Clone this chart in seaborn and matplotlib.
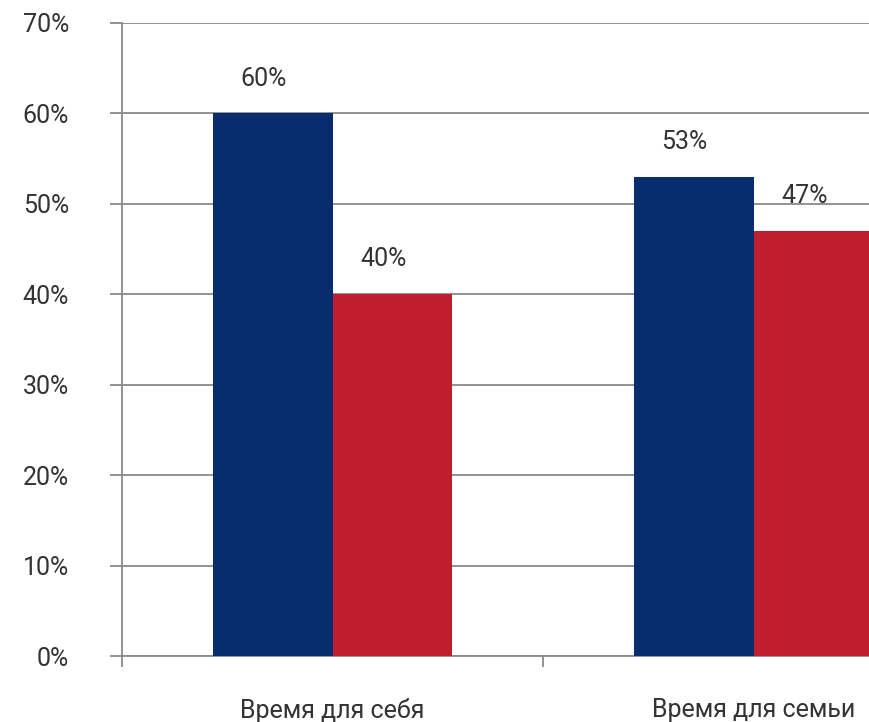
import matplotlib
matplotlib.use("Agg")
import matplotlib.pyplot as plt
from matplotlib.ticker import FixedLocator
import seaborn as sns
import pandas as pd

# Chart data
categories = ["Время для себя", "Время для семьи"]
series_names = ["Группа 1", "Группа 2"]
values_first = [60, 53]
values_second = [40, 47]
y_ticks = [0, 10, 20, 30, 40, 50, 60, 70]
y_tick_labels = ["0%", "10%", "20%", "30%", "40%", "50%", "60%", "70%"]

palette = ["#082d6e", "#be1e2d"]
grid_color = "#8a8a8a"
text_color = "#333333"

df = pd.DataFrame({
    "category": categories * 2,
    "series": [series_names[0]] * len(categories) + [series_names[1]] * len(categories),
    "value": values_first + values_second,
})

sns.set_theme(style="white")
plt.rcParams["font.family"] = ["Roboto", "DejaVu Sans"]

fig = plt.figure(figsize=(8.7, 7.22), dpi=100)
# plot area runs past the right edge of the canvas
ax = fig.add_axes([122 / 870, 1 - 656 / 722, 842 / 870, 633 / 722])

sns.barplot(data=df, x="category", y="value", hue="series", order=categories,
            hue_order=series_names, palette=palette, saturation=1, width=0.57,
            linewidth=0, legend=False, ax=ax, zorder=3)

ax.set_xlim(-0.5, 1.5)
ax.set_ylim(0, 70)
ax.set_xlabel("")
ax.set_ylabel("")

# horizontal grid with outward ticks
ax.set_yticks(y_ticks)
ax.set_yticklabels(y_tick_labels)
ax.yaxis.grid(True, color=grid_color, linewidth=1.3, zorder=0)
ax.set_axisbelow(True)
ax.tick_params(axis="y", which="major", left=True, length=9, width=1.3,
               color=grid_color, pad=29, labelsize=18, labelcolor=text_color)

# category labels centred, tick marks at category boundaries
ax.tick_params(axis="x", which="major", length=0, pad=30, labelsize=18,
               labelcolor=text_color)
ax.xaxis.set_minor_locator(FixedLocator([-0.5, 0.5, 1.5]))
ax.tick_params(axis="x", which="minor", bottom=True, length=8, width=1.3,
               color=grid_color, direction="out")

for side in ["top", "right"]:
    ax.spines[side].set_visible(False)
for side in ["left", "bottom"]:
    ax.spines[side].set_color(grid_color)
    ax.spines[side].set_linewidth(1.3)

# value labels above each bar
for container in ax.containers:
    for bar in container:
        h = bar.get_height()
        ax.annotate(f"{h:.0f}%", (bar.get_x() + bar.get_width() / 2, h),
                    xytext=(-6.5, 16.5), textcoords="offset points",
                    ha="center", va="bottom", fontsize=18, color=text_color,
                    zorder=5)

fig.savefig("out.png", dpi=100)
